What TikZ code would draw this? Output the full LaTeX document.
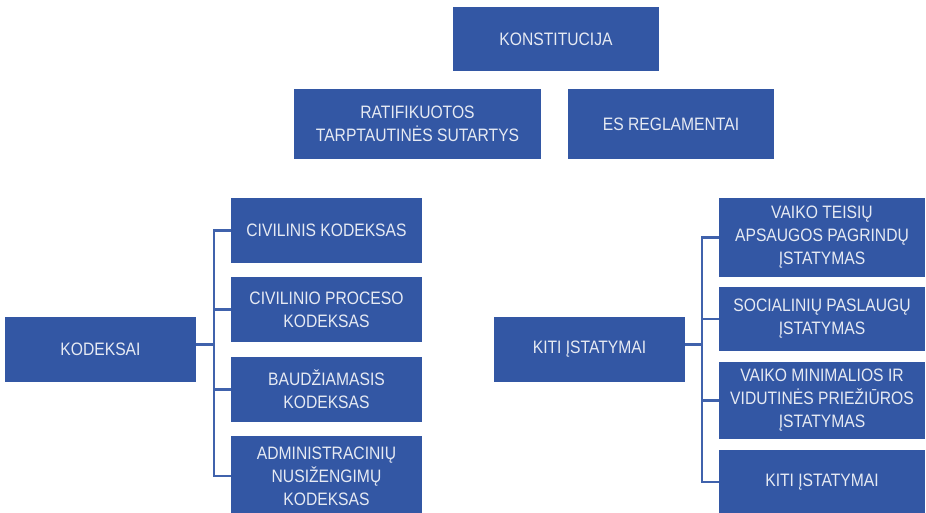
\documentclass[tikz,border=0pt]{standalone}
\usepackage{fontspec}
\setmainfont{Liberation Sans}[FakeStretch=0.87]
\definecolor{boxblue}{HTML}{3357A4}
\definecolor{lineblue}{HTML}{4062AC}
\definecolor{txt}{HTML}{E6EAF3}
\begin{document}
\begin{tikzpicture}[x=1pt,y=-1pt,
  bx/.style={rectangle, fill=boxblue, inner sep=0pt, align=center, text=txt,
    font=\fontsize{18}{23}\selectfont},
  conn/.style={draw=lineblue, line width=2.2pt}]
\useasboundingbox (0,0) rectangle (926,512);
\clip (0,0) rectangle (926,512);
\node[bx, minimum width=206, minimum height=64] (konst) at (556,39) {KONSTITUCIJA};
\node[bx, minimum width=247, minimum height=70] (ratif) at (417.5,124) {RATIFIKUOTOS\\TARPTAUTINĖS SUTARTYS};
\node[bx, minimum width=206, minimum height=70] (es) at (671,124) {ES REGLAMENTAI};

\node[bx, minimum width=191, minimum height=65] (kod) at (100.5,349.5) {KODEKSAI};
\node[bx, minimum width=191, minimum height=65] (k1) at (326.5,230.5) {CIVILINIS KODEKSAS};
\node[bx, minimum width=191, minimum height=65] (k2) at (326.5,309.5) {CIVILINIO PROCESO\\KODEKSAS};
\node[bx, minimum width=191, minimum height=65] (k3) at (326.5,389.5) {BAUDŽIAMASIS\\KODEKSAS};
\node[bx, minimum width=191, minimum height=80] (k4) at (326.5,476) {ADMINISTRACINIŲ\\NUSIŽENGIMŲ\\KODEKSAS};

\node[bx, minimum width=191, minimum height=65] (kiti) at (589.5,349.5) {KITI ĮSTATYMAI};
\node[bx, minimum width=206, minimum height=79] (r1) at (822,237.5) {VAIKO TEISIŲ\\APSAUGOS PAGRINDŲ\\ĮSTATYMAS};
\node[bx, minimum width=206, minimum height=64] (r2) at (822,319) {SOCIALINIŲ PASLAUGŲ\\ĮSTATYMAS};
\node[bx, minimum width=206, minimum height=77] (r3) at (822,400.5) {VAIKO MINIMALIOS IR\\VIDUTINĖS PRIEŽIŪROS\\ĮSTATYMAS};
\node[bx, minimum width=206, minimum height=64] (r4) at (822,482) {KITI ĮSTATYMAI};

\coordinate (busL) at (214,0);
\coordinate (busR) at (702,0);
\foreach \c in {k1,k2,k3,k4}
  \draw[conn] ([yshift=5pt]kod.east) -- ([yshift=5pt]kod.east -| busL) |- (\c.west);
\foreach \c in {r1,r2,r3,r4}
  \draw[conn] ([yshift=5pt]kiti.east) -- ([yshift=5pt]kiti.east -| busR) |- (\c.west);
\end{tikzpicture}
\end{document}
